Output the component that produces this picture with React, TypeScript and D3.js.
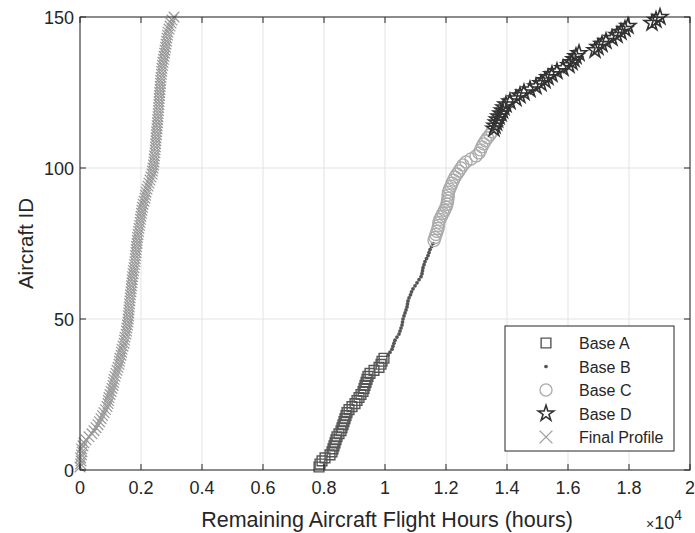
import React from "react";
import * as d3 from "d3";

// remaining flight hours per aircraft (IDs run on from base to base)
const baseA = [7836, 7869, 7934, 8033, 8197, 8262, 8295, 8328, 8361, 8393, 8426, 8492, 8557, 8590, 8623, 8656, 8689, 8721, 8754, 8820, 8918, 9016, 9082, 9148, 9213, 9279, 9312, 9344, 9377, 9410, 9443, 9508, 9639, 9803, 9869, 9902, 9967];
const baseB = [10098, 10164, 10230, 10262, 10295, 10328, 10393, 10459, 10492, 10525, 10557, 10574, 10590, 10623, 10656, 10689, 10721, 10738, 10754, 10787, 10836, 10869, 10918, 10984, 11049, 11115, 11180, 11213, 11230, 11246, 11279, 11311, 11361, 11410, 11443, 11475, 11525, 11574];
const baseC = [11607, 11639, 11672, 11705, 11738, 11754, 11770, 11803, 11852, 11902, 11951, 12000, 12033, 12049, 12066, 12070, 12082, 12115, 12164, 12197, 12246, 12295, 12361, 12426, 12492, 12557, 12656, 12820, 12984, 13082, 13131, 13180, 13230, 13295, 13361, 13443, 13508];
const baseD = [13574, 13607, 13656, 13689, 13738, 13803, 13852, 13902, 13967, 14098, 14295, 14426, 14557, 14754, 14951, 15115, 15246, 15344, 15475, 15639, 15836, 16033, 16131, 16197, 16262, 16361, 16885, 16984, 17115, 17246, 17443, 17607, 17738, 17869, 17967, 18754, 18885, 19016];
const finalProfile = [0, 16, 33, 20, 49, 66, 50, 98, 131, 197, 295, 393, 459, 525, 590, 639, 689, 738, 787, 836, 885, 918, 934, 951, 984, 1016, 1049, 1082, 1098, 1115, 1148, 1180, 1213, 1246, 1279, 1295, 1311, 1344, 1361, 1377, 1410, 1443, 1459, 1475, 1508, 1525, 1541, 1557, 1574, 1580, 1590, 1600, 1607, 1615, 1623, 1639, 1645, 1656, 1672, 1680, 1689, 1705, 1710, 1721, 1738, 1754, 1770, 1787, 1803, 1810, 1820, 1836, 1842, 1852, 1869, 1875, 1885, 1902, 1918, 1934, 1951, 1967, 1984, 2000, 2016, 2033, 2049, 2066, 2098, 2131, 2148, 2164, 2197, 2230, 2262, 2295, 2328, 2361, 2377, 2393, 2410, 2426, 2430, 2443, 2459, 2462, 2475, 2480, 2492, 2495, 2508, 2512, 2525, 2530, 2541, 2545, 2557, 2562, 2574, 2578, 2590, 2593, 2598, 2607, 2612, 2623, 2628, 2639, 2643, 2656, 2672, 2676, 2689, 2705, 2721, 2738, 2754, 2770, 2787, 2803, 2820, 2836, 2852, 2869, 2885, 2918, 2951, 2984, 3016, 3082];

const firstIdA = 1;
const firstIdB = 38;
const firstIdC = 76;
const firstIdD = 113;

const xTicks = [0, 2000, 4000, 6000, 8000, 10000, 12000, 14000, 16000, 18000, 20000];
const xTickLabels = ["0", "0.2", "0.4", "0.6", "0.8", "1", "1.2", "1.4", "1.6", "1.8", "2"];
const yTicks = [0, 50, 100, 150];
const legendLabels = ["Base A", "Base B", "Base C", "Base D", "Final Profile"];

const W = 695;
const H = 533;
const left = 80;
const right = 690;
const top = 17;
const bottom = 470;
const axisColor = "#262626";
const font = "'Liberation Sans', Arial, sans-serif";

const x = d3.scaleLinear().domain([0, 20000]).range([left, right]);
const y = d3.scaleLinear().domain([0, 150]).range([bottom, top]);

const square = d3.symbol(d3.symbolSquare, 95)();
const circle = d3.symbol(d3.symbolCircle, 115)();
const star = d3.symbol(d3.symbolStar, 75)();
const cross = d3.symbol(d3.symbolX, 75)();
const dot = d3.symbol(d3.symbolCircle, 11)();
const crossLegend = d3.symbol(d3.symbolX, 110)();

type Style = { d: string; stroke: string; fill: string; sw: number };
const styles: Style[] = [
  { d: square, stroke: "#555", fill: "none", sw: 1.4 },
  { d: dot, stroke: "none", fill: "#555", sw: 0 },
  { d: circle, stroke: "#aaa", fill: "none", sw: 1.3 },
  { d: star, stroke: "#333", fill: "none", sw: 1.6 },
  { d: cross, stroke: "#999", fill: "none", sw: 1.2 },
];

const series = [
  { values: baseA, first: firstIdA },
  { values: baseB, first: firstIdB },
  { values: baseC, first: firstIdC },
  { values: baseD, first: firstIdD },
  { values: finalProfile, first: 1 },
];

export default function App() {
  return (
    <svg width={W} height={H} style={{ position: "absolute", left: 0, top: 0, background: "#fff" }}>
      <rect x={0} y={0} width={W} height={H} fill="#fff" />
      {/* grid */}
      {xTicks.map((t) => (
        <line key={"gx" + t} x1={x(t)} x2={x(t)} y1={top} y2={bottom} stroke="#e3e3e3" />
      ))}
      {yTicks.map((t) => (
        <line key={"gy" + t} x1={left} x2={right} y1={y(t)} y2={y(t)} stroke="#e3e3e3" />
      ))}

      {/* markers */}
      {series.map((s, si) =>
        s.values.map((v, i) => (
          <path
            key={si + "-" + i}
            d={styles[si].d}
            transform={`translate(${x(v)},${y(s.first + i)})`}
            fill={styles[si].fill}
            stroke={styles[si].stroke}
            strokeWidth={styles[si].sw}
          />
        ))
      )}

      {/* box + ticks */}
      <rect x={left} y={top} width={right - left} height={bottom - top} fill="none" stroke={axisColor} strokeWidth={1} />
      {xTicks.map((t) => (
        <g key={"tx" + t}>
          <line x1={x(t)} x2={x(t)} y1={bottom} y2={bottom - 6} stroke={axisColor} />
          <line x1={x(t)} x2={x(t)} y1={top} y2={top + 6} stroke={axisColor} />
        </g>
      ))}
      {yTicks.map((t) => (
        <g key={"ty" + t}>
          <line x1={left} x2={left + 6} y1={y(t)} y2={y(t)} stroke={axisColor} />
          <line x1={right} x2={right - 6} y1={y(t)} y2={y(t)} stroke={axisColor} />
        </g>
      ))}

      {/* tick labels */}
      {xTicks.map((t, i) => (
        <text key={"lx" + t} x={x(t)} y={bottom + 24} textAnchor="middle" fontFamily={font} fontSize={18} fill={axisColor}>
          {xTickLabels[i]}
        </text>
      ))}
      {yTicks.map((t) => (
        <text key={"ly" + t} x={left - 6} y={y(t) + 6.5} textAnchor="end" fontFamily={font} fontSize={18} fill={axisColor}>
          {t}
        </text>
      ))}

      {/* axis labels */}
      <text x={(left + right) / 2 + 2} y={bottom + 57} textAnchor="middle" fontFamily={font} fontSize={21.5} fill={axisColor}>
        Remaining Aircraft Flight Hours (hours)
      </text>
      <text
        transform={`translate(33,${(top + bottom) / 2}) rotate(-90)`}
        textAnchor="middle"
        fontFamily={font}
        fontSize={20.5}
        fill={axisColor}
      >
        Aircraft ID
      </text>
      <text x={646} y={529} fontFamily={font} fontSize={18} fill={axisColor}>
        <tspan fontSize={14}>×</tspan>10
        <tspan dy={-9} fontSize={14}>4</tspan>
      </text>

      {/* legend */}
      <rect x={505} y={326} width={169} height={125} fill="#fff" stroke={axisColor} strokeWidth={1} />
      {legendLabels.map((lab, i) => (
        <g key={lab} transform={`translate(0,${343 + i * 23.5})`}>
          <path
            d={i === 4 ? crossLegend : styles[i].d}
            transform="translate(546,0)"
            fill={styles[i].fill}
            stroke={styles[i].stroke}
            strokeWidth={styles[i].sw}
          />
          <text x={579} y={6} fontFamily={font} fontSize={16} fill={axisColor}>
            {lab}
          </text>
        </g>
      ))}
    </svg>
  );
}
